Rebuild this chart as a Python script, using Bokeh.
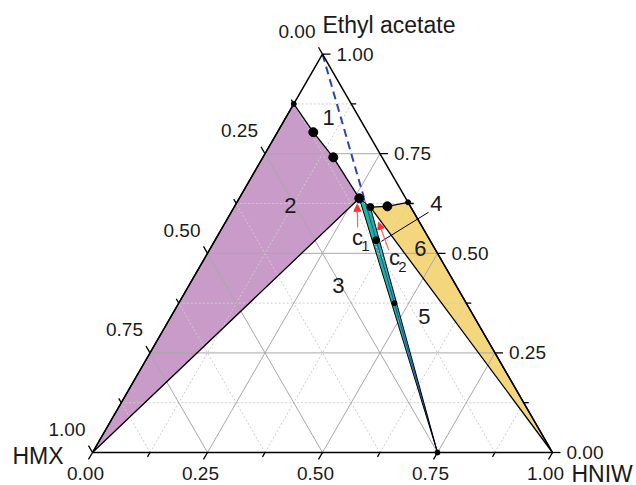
import numpy as np
from bokeh.plotting import figure
from bokeh.models import Arrow, NormalHead
from bokeh.core.properties import value
from bokeh.embed import file_html
from bokeh.resources import INLINE

# ---- data: compositions given as (HNIW fraction, Ethyl acetate fraction); HMX = 1 - HNIW - EA
region2_hniw = [0.0, 0.0, 0.078, 0.153, 0.261]
region2_ea = [0.0, 0.875, 0.804, 0.741, 0.638]
teal_hniw = [0.261, 0.296, 0.75]
teal_ea = [0.638, 0.616, 0.0]
region6_hniw = [0.296, 0.332, 0.372, 1.0]
region6_ea = [0.616, 0.618, 0.628, 0.0]
cocrystal_dash_hniw = [0.0, 0.27]
cocrystal_dash_ea = [1.0, 0.64]
cocrystal_solid_hniw = [0.27, 0.75]
cocrystal_solid_ea = [0.64, 0.0]
big_hniw = [0.078, 0.153, 0.261, 0.332]
big_ea = [0.804, 0.741, 0.638, 0.618]
mid_hniw = [0.296, 0.35]
mid_ea = [0.616, 0.533]
small_hniw = [0.0, 0.372, 0.469, 0.75]
small_ea = [0.875, 0.628, 0.375, 0.0]
region_labels = ["1", "2", "3", "4", "5", "6"]
region_hniw = [0.093, 0.120, 0.325, 0.435, 0.551, 0.457]
region_ea = [0.841, 0.620, 0.419, 0.625, 0.341, 0.512]
c_labels = ["1", "2"]
c_hniw = [0.306, 0.412]
c_ea = [0.540, 0.489]
arrow_tail_hniw = [0.294, 0.390]
arrow_tail_ea = [0.565, 0.508]
arrow_tip_hniw = [0.264, 0.333]
arrow_tip_ea = [0.623, 0.578]
leader_hniw = [0.429, 0.363]
leader_ea = [0.603, 0.530]
tick_values = [0.0, 0.25, 0.5, 0.75, 1.0]
tick_labels = ["0.00", "0.25", "0.50", "0.75", "1.00"]
minor_values = [0.125, 0.375, 0.625, 0.875]

S3 = np.sqrt(3) / 2


def xy(b, c):
    b = np.asarray(b, float)
    c = np.asarray(c, float)
    return list(b + c / 2), list(c * S3)


PX = 1 / 460.0
p = figure(width=636, height=485, x_range=(-92 * PX, 544 * PX), y_range=(-33 * PX, 452 * PX),
           output_backend="svg", toolbar_location=None, min_border=0,
           x_axis_location=None, y_axis_location=None)
p.grid.visible = False
p.outline_line_color = None
p.background_fill_color = "white"
p.border_fill_color = "white"

FONT = value("Liberation Sans")

# filled regions
for hb, he, col in [(region2_hniw, region2_ea, "#c99bc9"),
                    (region6_hniw, region6_ea, "#f4d77c"),
                    (teal_hniw, teal_ea, "#22b39c")]:
    xs, ys = xy(hb, he)
    p.patch(xs, ys, fill_color=col, line_color=None)


# grid lines
def grid_lines(levels):
    xs_all, ys_all = [], []
    for t in levels:
        for b, c in [([0, 1 - t], [t, t]), ([t, t], [0, 1 - t]), ([1 - t, 0], [0, 1 - t])]:
            x, y = xy(b, c)
            xs_all.append(x)
            ys_all.append(y)
    return xs_all, ys_all


gx, gy = grid_lines(minor_values)
p.multi_line(gx, gy, line_color="#cccccc", line_width=1, line_dash="2 2")
gx, gy = grid_lines(tick_values[1:-1])
p.multi_line(gx, gy, line_color="#a8a8a8", line_width=1)

# cocrystal line
xs, ys = xy(cocrystal_dash_hniw, cocrystal_dash_ea)
p.line(xs, ys, line_color="#2a44b0", line_width=2, line_dash="8 5")
xs, ys = xy(cocrystal_solid_hniw, cocrystal_solid_ea)
p.line(xs, ys, line_color="#2a44b0", line_width=1)

# region outlines
for hb, he, w in [(region2_hniw, region2_ea, 1.3), (region6_hniw, region6_ea, 1.3),
                  (teal_hniw, teal_ea, 1.0)]:
    xs, ys = xy(hb + hb[:1], he + he[:1])
    p.line(xs, ys, line_color="black", line_width=w)

# triangle edges
xs, ys = xy([0, 1, 0, 0], [0, 0, 1, 0])
p.line(xs, ys, line_color="black", line_width=1.5)

# ticks
tx, ty = [], []
all_t = sorted(tick_values + minor_values)
for t in all_t:
    L = (8 if t in tick_values else 5) * PX
    # bottom (HNIW)
    x0, y0 = t, 0.0
    tx.append([x0, x0 - 0.5 * L]); ty.append([y0, y0 - S3 * L])
    # right (EA)
    (x0,), (y0,) = xy([1 - t], [t])
    tx.append([x0, x0 + L]); ty.append([y0, y0])
    # left (HMX)
    (x0,), (y0,) = xy([0], [1 - t])
    tx.append([x0, x0 - 0.5 * L]); ty.append([y0, y0 + S3 * L])
p.multi_line(tx, ty, line_color="black", line_width=1.3)

# points
xs, ys = xy(big_hniw, big_ea)
p.scatter(xs, ys, size=9, color="black")
xs, ys = xy(mid_hniw, mid_ea)
p.scatter(xs, ys, size=7, color="black")
xs, ys = xy(small_hniw, small_ea)
p.scatter(xs, ys, size=5, color="black")

# leader line for region 4
xs, ys = xy(leader_hniw, leader_ea)
p.line(xs, ys, line_color="black", line_width=1)

# red arrows
for i in range(2):
    (x0,), (y0,) = xy([arrow_tail_hniw[i]], [arrow_tail_ea[i]])
    (x1,), (y1,) = xy([arrow_tip_hniw[i]], [arrow_tip_ea[i]])
    p.add_layout(Arrow(end=NormalHead(size=7, fill_color="#ff3030", line_color="#ff3030"),
                       x_start=x0, y_start=y0, x_end=x1, y_end=y1,
                       line_color="#ff6060", line_width=1.2))

TXT = "#1a1a1a"
# axis tick labels
bx, by = xy(tick_values, [0] * 5)
p.text(bx, by, text=tick_labels, x_offset=-7, y_offset=21, text_align="center",
       text_baseline="middle", text_font=FONT, text_font_size="19px", text_color=TXT)
rx, ry = xy([1 - t for t in tick_values], tick_values)
p.text(rx, ry, text=tick_labels, x_offset=14, y_offset=0, text_align="left",
       text_baseline="middle", text_font=FONT, text_font_size="19px", text_color=TXT)
lx, ly = xy([0] * 5, [1 - t for t in tick_values])
p.text(lx, ly, text=tick_labels, x_offset=-7, y_offset=-23, text_align="right",
       text_baseline="middle", text_font=FONT, text_font_size="19px", text_color=TXT)

# axis titles
p.text([0.5], [S3], text=["Ethyl acetate"], x_offset=0, y_offset=-29, text_align="left",
       text_baseline="middle", text_font=FONT, text_font_size="23px", text_color=TXT)
p.text([1.0], [0.0], text=["HNIW"], x_offset=19, y_offset=21, text_align="left",
       text_baseline="middle", text_font=FONT, text_font_size="23px", text_color=TXT)
p.text([0.0], [0.0], text=["HMX"], x_offset=-29, y_offset=3, text_align="right",
       text_baseline="middle", text_font=FONT, text_font_size="23px", text_color=TXT)

# region labels
xs, ys = xy(region_hniw, region_ea)
p.text(xs, ys, text=region_labels, text_align="center", text_baseline="middle",
       text_font=FONT, text_font_size="22px", text_color=TXT)
xs, ys = xy(c_hniw, c_ea)
p.text(xs, ys, text=["c", "c"], text_align="center", text_baseline="middle",
       text_font=FONT, text_font_size="22px", text_color=TXT)
p.text(xs, ys, text=c_labels, x_offset=8, y_offset=9, text_align="center", text_baseline="middle",
       text_font=FONT, text_font_size="15px", text_color=TXT)

open("out.html", "w").write(file_html(p, INLINE))
